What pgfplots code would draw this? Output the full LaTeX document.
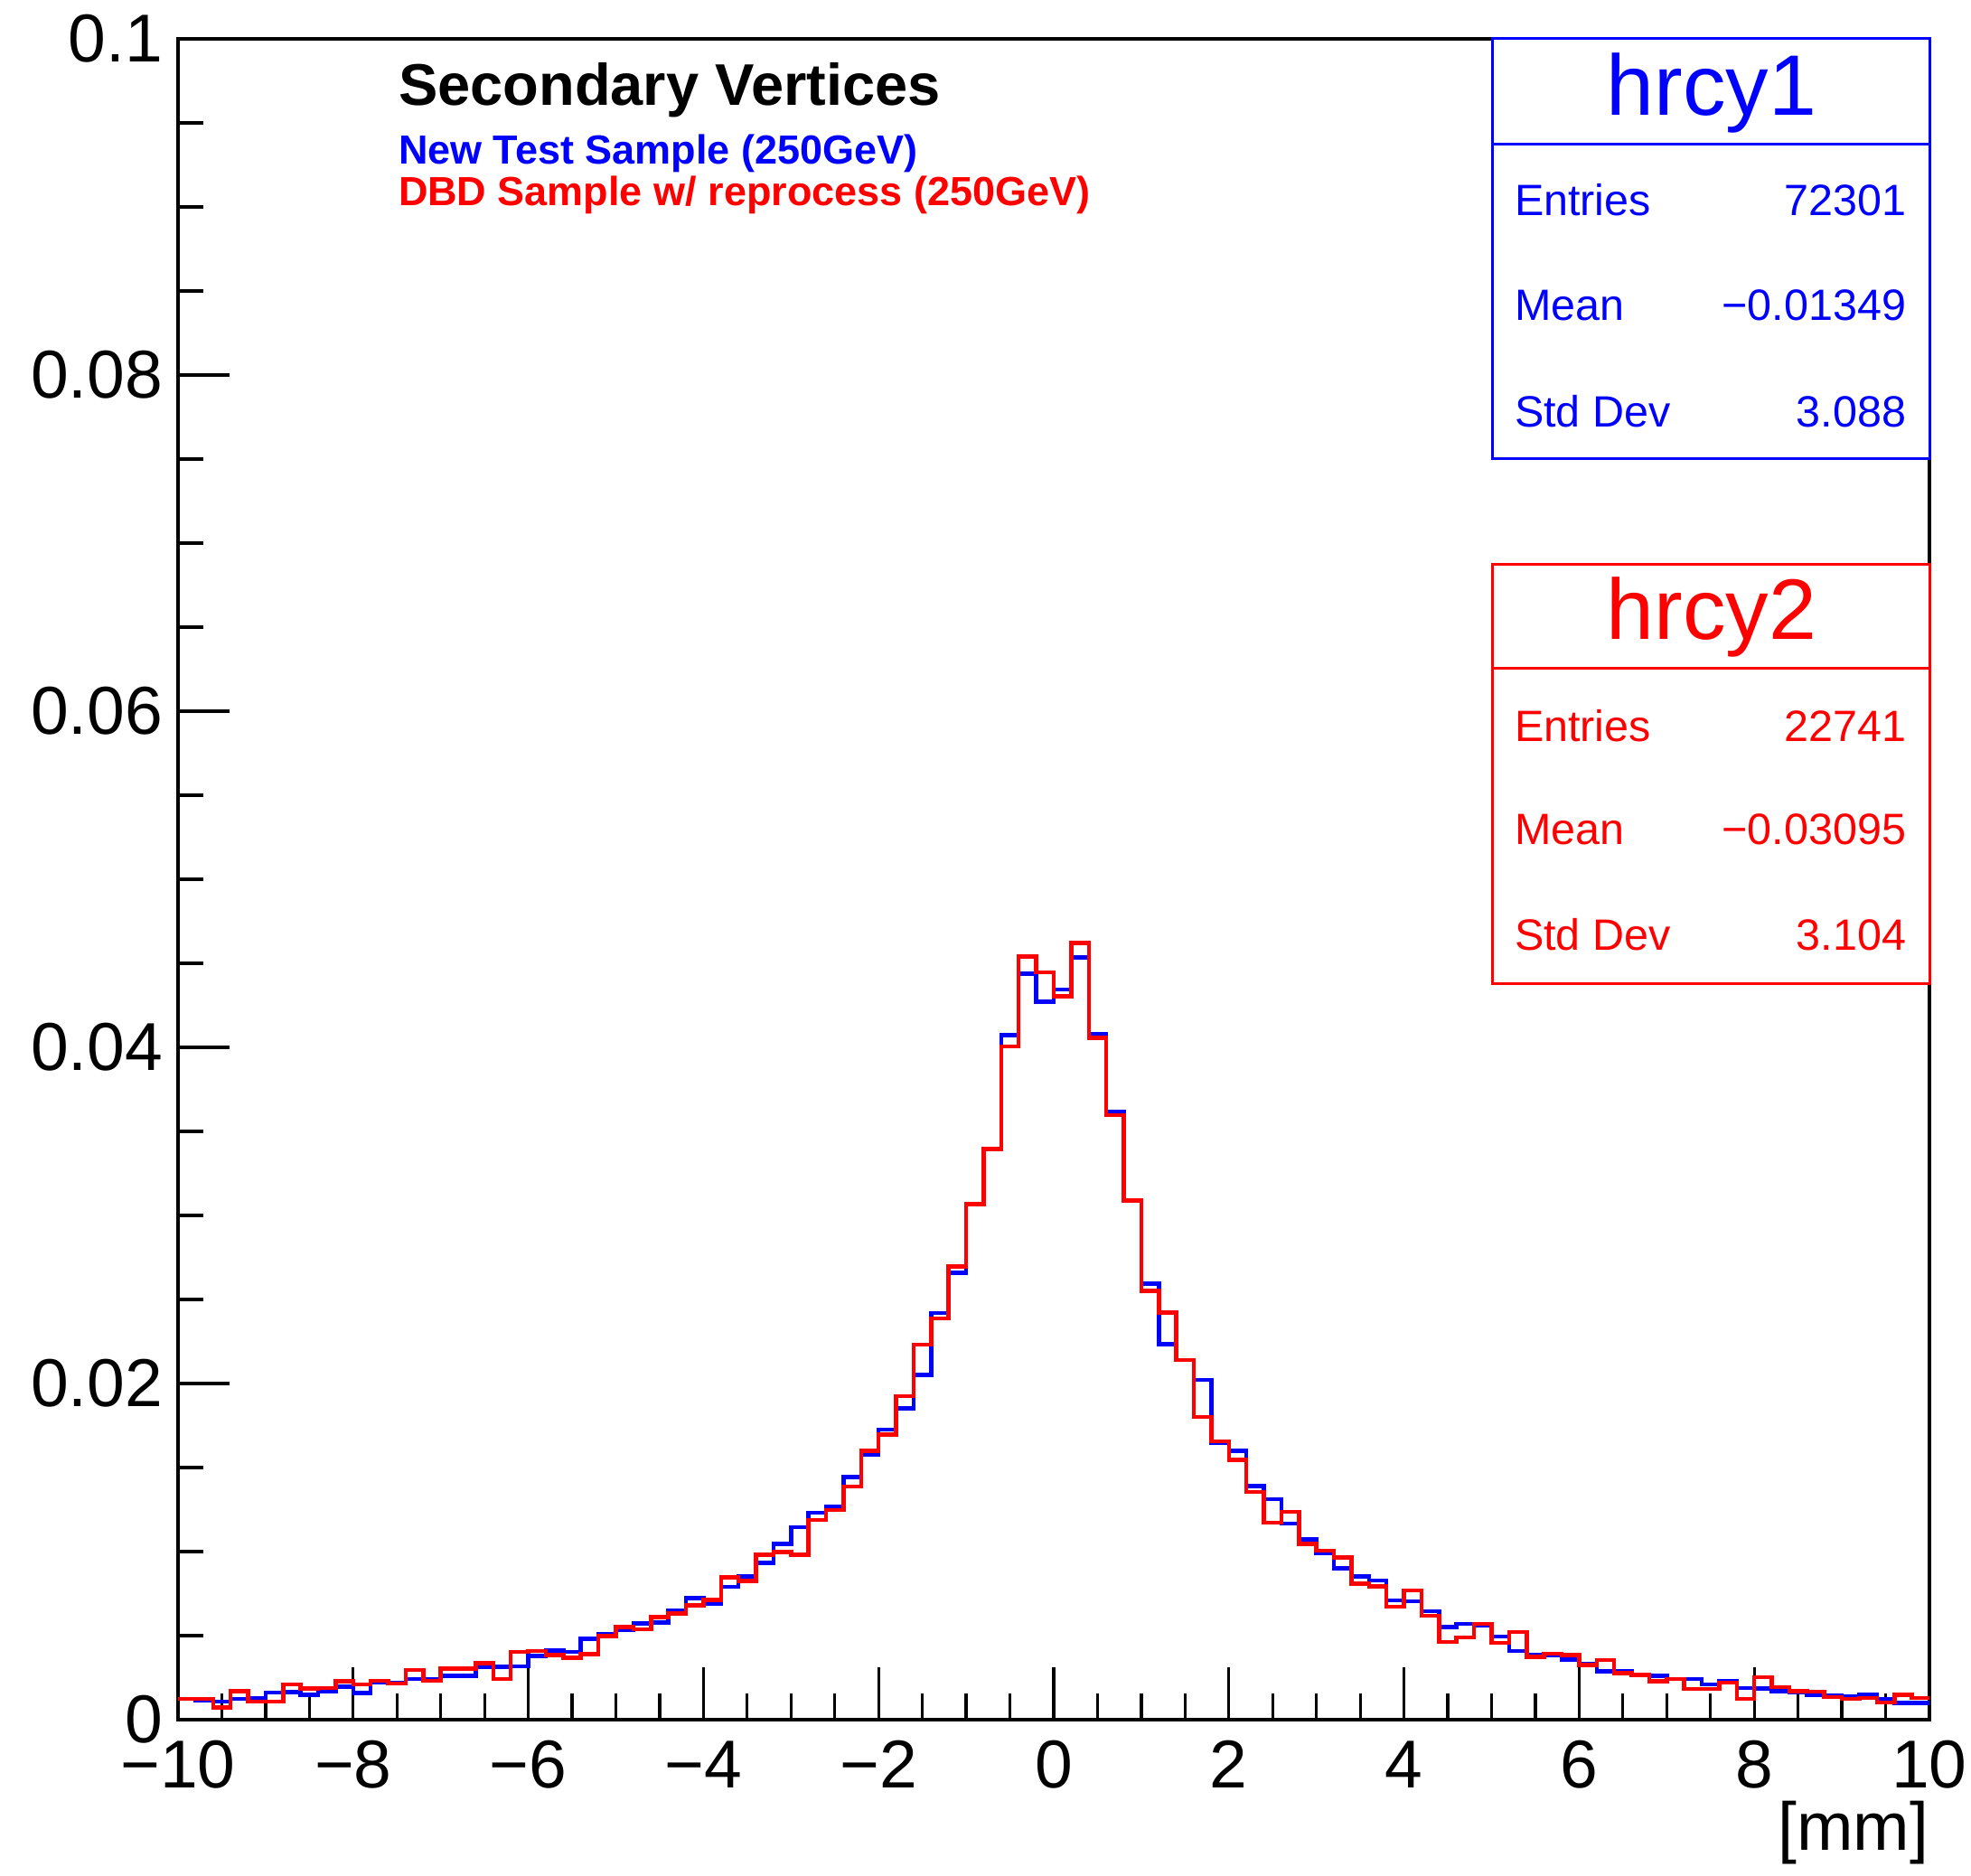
\documentclass[border=0pt]{standalone}
\usepackage{fontspec}
\setmainfont{Liberation Sans}
\usepackage{pgfplots}
\usepackage{pgfplotstable}
\pgfplotsset{compat=1.18}
\definecolor{rblue}{RGB}{0,0,255}
\definecolor{rred}{RGB}{255,0,0}

\pgfplotstableread{
x blue red
-10.0 0.00125 0.00125
-9.8 0.00116 0.00125
-9.6 0.00107 0.00072
-9.4 0.00125 0.00170
-9.2 0.00130 0.00107
-9.0 0.00160 0.00107
-8.8 0.00165 0.00210
-8.6 0.00147 0.00185
-8.4 0.00170 0.00188
-8.2 0.00197 0.00228
-8.0 0.00158 0.00210
-7.8 0.00224 0.00230
-7.6 0.00220 0.00215
-7.4 0.00242 0.00296
-7.2 0.00242 0.00230
-7.0 0.00260 0.00305
-6.8 0.00260 0.00305
-6.6 0.00314 0.00337
-6.4 0.00314 0.00242
-6.2 0.00317 0.00403
-6.0 0.00380 0.00409
-5.8 0.00412 0.00385
-5.6 0.00403 0.00367
-5.4 0.00480 0.00389
-5.2 0.00510 0.00498
-5.0 0.00534 0.00552
-4.8 0.00573 0.00538
-4.6 0.00577 0.00609
-4.4 0.00649 0.00631
-4.2 0.00722 0.00681
-4.0 0.00690 0.00713
-3.8 0.00789 0.00848
-3.6 0.00851 0.00824
-3.4 0.00932 0.00980
-3.2 0.01045 0.00998
-3.0 0.01146 0.00980
-2.8 0.01230 0.01188
-2.6 0.01269 0.01247
-2.4 0.01443 0.01386
-2.2 0.01574 0.01599
-2.0 0.01727 0.01695
-1.8 0.01851 0.01925
-1.6 0.02051 0.02232
-1.4 0.02420 0.02388
-1.2 0.02659 0.02697
-1.0 0.03066 0.03066
-0.8 0.03394 0.03394
-0.6 0.04072 0.04004
-0.4 0.04439 0.04541
-0.2 0.04272 0.04446
0.0 0.04344 0.04303
0.2 0.04536 0.04622
0.4 0.04080 0.04057
0.6 0.03615 0.03597
0.8 0.03090 0.03090
1.0 0.02594 0.02550
1.2 0.02235 0.02422
1.4 0.02139 0.02139
1.6 0.02021 0.01802
1.8 0.01648 0.01657
2.0 0.01599 0.01546
2.2 0.01390 0.01354
2.4 0.01311 0.01173
2.6 0.01168 0.01237
2.8 0.01072 0.01045
3.0 0.00991 0.01006
3.2 0.00900 0.00966
3.4 0.00853 0.00810
3.6 0.00827 0.00793
3.8 0.00710 0.00672
4.0 0.00704 0.00768
4.2 0.00644 0.00618
4.4 0.00550 0.00463
4.6 0.00571 0.00490
4.8 0.00561 0.00569
5.0 0.00495 0.00458
5.2 0.00409 0.00522
5.4 0.00384 0.00373
5.6 0.00382 0.00392
5.8 0.00358 0.00385
6.0 0.00332 0.00326
6.2 0.00287 0.00355
6.4 0.00287 0.00278
6.6 0.00265 0.00265
6.8 0.00260 0.00229
7.0 0.00242 0.00242
7.2 0.00242 0.00183
7.4 0.00210 0.00183
7.6 0.00229 0.00220
7.8 0.00188 0.00125
8.0 0.00185 0.00254
8.2 0.00170 0.00194
8.4 0.00165 0.00170
8.6 0.00149 0.00167
8.8 0.00143 0.00134
9.0 0.00138 0.00125
9.2 0.00147 0.00129
9.4 0.00122 0.00102
9.6 0.00099 0.00147
9.8 0.00099 0.00129
10.0 0.00099 0.00129
}\hist

\begin{document}
\begin{tikzpicture}
\path[use as bounding box] (-39.4pt,-34.4pt) rectangle (396.8pt,380.6pt);
\begin{axis}[
  at={(0pt,0pt)}, anchor=south west,
  width=387.6pt, height=372pt, scale only axis,
  xmin=-10, xmax=10, ymin=0, ymax=0.1,
  xtick={-10,-8,-6,-4,-2,0,2,4,6,8,10},
  xticklabels={−10,−8,−6,−4,−2,0,2,4,6,8,10},
  ytick={0,0.02,0.04,0.06,0.08,0.1},
  yticklabels={0,0.02,0.04,0.06,0.08,0.1},
  minor x tick num=3, minor y tick num=3,
  tick pos=left, tick align=inside,
  major tick length=11.5pt, minor tick length=5.7pt,
  every tick/.style={black, line width=0.65pt},
  axis line style={line width=0.9pt},
  tick label style={font=\fontsize{15}{18}\selectfont},
  xticklabel style={anchor=north, inner sep=0pt, yshift=-4.5pt},
  yticklabel style={anchor=east, inner sep=0pt, xshift=-3.2pt},
]
\addplot[const plot mark left, rblue, line width=0.9pt] table[x=x, y=blue] {\hist};
\addplot[const plot mark left, rred, line width=0.9pt] table[x=x, y=red] {\hist};
\end{axis}

% x label
\node[anchor=north east, inner sep=0pt, font=\fontsize{15}{18}\selectfont] at (387.6pt,-17.8pt) {[mm]};

% annotations
\node[anchor=base west, inner sep=0pt, font=\bfseries\fontsize{13}{15}\selectfont] at (48.6pt,357.2pt) {Secondary Vertices};
\node[anchor=base west, inner sep=0pt, text=rblue, font=\bfseries\fontsize{9}{11}\selectfont] at (48.6pt,344.2pt) {New Test Sample (250GeV)};
\node[anchor=base west, inner sep=0pt, text=rred, font=\bfseries\fontsize{9}{11}\selectfont] at (48.6pt,335.0pt) {DBD Sample w/ reprocess (250GeV)};

% stat box 1
\draw[rblue, line width=0.6pt, fill=white] (290.8pt,279pt) rectangle (387.6pt,372pt);
\draw[rblue, line width=0.6pt] (290.8pt,348.6pt) -- (387.6pt,348.6pt);
\node[anchor=base, inner sep=0pt, text=rblue, font=\fontsize{19}{22}\selectfont] at (339.4pt,355.1pt) {hrcy1};
\begin{scope}[every node/.style={inner sep=0pt, text=rblue, font=\fontsize{9.7}{11}\selectfont}]
\node[anchor=base west] at (295.6pt,332.8pt) {Entries};
\node[anchor=base east] at (382.6pt,332.8pt) {72301};
\node[anchor=base west] at (295.6pt,309.6pt) {Mean};
\node[anchor=base east] at (382.6pt,309.6pt) {−0.01349};
\node[anchor=base west] at (295.6pt,286.0pt) {Std Dev};
\node[anchor=base east] at (382.6pt,286.0pt) {3.088};
\end{scope}

% stat box 2
\draw[rred, line width=0.6pt, fill=white] (290.8pt,162.8pt) rectangle (387.6pt,255.6pt);
\draw[rred, line width=0.6pt] (290.8pt,232.6pt) -- (387.6pt,232.6pt);
\node[anchor=base, inner sep=0pt, text=rred, font=\fontsize{19}{22}\selectfont] at (339.4pt,239.1pt) {hrcy2};
\begin{scope}[every node/.style={inner sep=0pt, text=rred, font=\fontsize{9.7}{11}\selectfont}]
\node[anchor=base west] at (295.6pt,216.4pt) {Entries};
\node[anchor=base east] at (382.6pt,216.4pt) {22741};
\node[anchor=base west] at (295.6pt,193.6pt) {Mean};
\node[anchor=base east] at (382.6pt,193.6pt) {−0.03095};
\node[anchor=base west] at (295.6pt,170.2pt) {Std Dev};
\node[anchor=base east] at (382.6pt,170.2pt) {3.104};
\end{scope}
\end{tikzpicture}
\end{document}
